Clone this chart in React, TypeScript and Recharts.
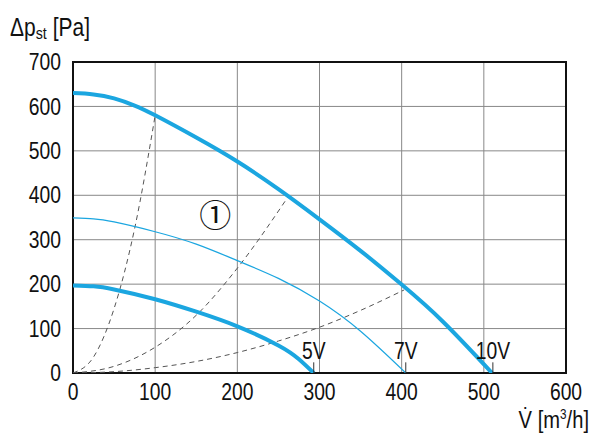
import React from 'react';
import { LineChart, Line, XAxis, YAxis, CartesianGrid, ReferenceLine, ReferenceArea, ReferenceDot } from 'recharts';

// fan curves (volume flow m3/h -> static pressure Pa)
const curve10V = [
  { x: 0, y: 630 }, { x: 25, y: 627 }, { x: 50, y: 618 }, { x: 75, y: 602 }, { x: 100, y: 580 }, { x: 150, y: 530 },
  { x: 200, y: 476 }, { x: 250, y: 414 }, { x: 300, y: 346 }, { x: 350, y: 275 }, { x: 400, y: 199 }, { x: 450, y: 116 }, { x: 510, y: 0 }
];
const curve7V = [
  { x: 0, y: 349 }, { x: 25, y: 347 }, { x: 50, y: 340 }, { x: 100, y: 318 }, { x: 150, y: 290 }, { x: 200, y: 253 },
  { x: 250, y: 213 }, { x: 300, y: 162 }, { x: 350, y: 94 }, { x: 405, y: 0 }
];
const curve5V = [
  { x: 0, y: 197 }, { x: 25, y: 195 }, { x: 50, y: 188 }, { x: 100, y: 166 }, { x: 150, y: 138 }, { x: 200, y: 105 },
  { x: 250, y: 62 }, { x: 275, y: 31 }, { x: 293, y: 0 }
];

// system curves (dashed)
const system1 = [{ x: 0, y: 0 }, { x: 25, y: 36 }, { x: 50, y: 145 }, { x: 75, y: 325 }, { x: 100, y: 580 }];
const system2 = [{ x: 0, y: 0 }, { x: 50, y: 15 }, { x: 100, y: 58 }, { x: 150, y: 130 }, { x: 200, y: 236 }, { x: 263, y: 400 }];
const system3 = [
  { x: 0, y: 0 }, { x: 50, y: 3 }, { x: 100, y: 12 }, { x: 150, y: 26 }, { x: 200, y: 46 },
  { x: 250, y: 72 }, { x: 300, y: 103 }, { x: 350, y: 141 }, { x: 403, y: 187 }
];

const curveLabels = [
  { name: '5V', x: 293 },
  { name: '7V', x: 405 },
  { name: '10V', x: 511 }
];

const xTicks = [0, 100, 200, 300, 400, 500, 600];
const yTicks = [0, 100, 200, 300, 400, 500, 600, 700];

const blue = '#1BA6E0';
const font = '"Liberation Sans", Arial, sans-serif';
const squeeze = 0.84;

// condensed-looking text (no narrow font installed)
function CondText({ x, y, anchor = 'start', size = 23, dy, children }: any) {
  return <text transform={`translate(${x},${y}) scale(${squeeze},1)`} x={0} y={0} dy={dy} textAnchor={anchor}
      fill="#111" fontSize={size} fontFamily={font}>{children}</text>;
}

const XTick = ({ x, y, payload }: any) => <CondText x={x} y={y} anchor="middle" dy="0.71em">{payload.value}</CondText>;
const YTick = ({ x, y, payload }: any) => <CondText x={x} y={y} anchor="end" dy="0.355em">{payload.value}</CondText>;

export default function App() {
  return <div style={{ position: 'absolute', left: 0, top: 0, width: 600, height: 436, background: '#fff' }}>
      <LineChart width={600} height={436} margin={{ top: 62, right: 34, bottom: 0, left: 0 }}>
        <CartesianGrid stroke="#888" strokeWidth={1} />
        <XAxis dataKey="x" type="number" domain={[0, 600]} ticks={xTicks} allowDataOverflow
          height={63} tickLine={false} axisLine={false} tickSize={0} tickMargin={11} tick={<XTick />} />
        <YAxis type="number" domain={[0, 700]} ticks={yTicks} allowDataOverflow
          width={73} tickLine={false} axisLine={false} tickSize={0} tickMargin={12} tick={<YTick />} />
        <ReferenceArea x1={0} x2={600} y1={0} y2={700} fill="none" stroke="#111" strokeWidth={2} />

        <Line data={system1} dataKey="y" type="monotone" stroke="#555" strokeWidth={1} strokeDasharray="5 4" dot={false} isAnimationActive={false} />
        <Line data={system2} dataKey="y" type="monotone" stroke="#555" strokeWidth={1} strokeDasharray="5 4" dot={false} isAnimationActive={false} />
        <Line data={system3} dataKey="y" type="monotone" stroke="#555" strokeWidth={1} strokeDasharray="5 4" dot={false} isAnimationActive={false} />

        <Line data={curve5V} dataKey="y" type="natural" stroke={blue} strokeWidth={4} dot={false} isAnimationActive={false} />
        <Line data={curve7V} dataKey="y" type="natural" stroke={blue} strokeWidth={1.2} dot={false} isAnimationActive={false} />
        <Line data={curve10V} dataKey="y" type="natural" stroke={blue} strokeWidth={4} dot={false} isAnimationActive={false} />

        {curveLabels.map(c => <ReferenceLine key={c.name} segment={[{ x: c.x, y: 0 }, { x: c.x, y: 24 }]} stroke="#333" strokeWidth={1}
            label={{ content: (p: any) => <CondText x={p.viewBox.x} y={p.viewBox.y - 3} anchor="middle">{c.name}</CondText> }} />)}

        <ReferenceDot x={173} y={354} r={0} fill="none" stroke="none"
          label={{ value: '①', position: 'center', fill: '#111', fontSize: 32, fontFamily: '"Noto Sans CJK JP", "DejaVu Sans", sans-serif' }} />

        <CondText x={10} y={36} size={25}>
          Δp<tspan fontSize={17} dy={3}>st</tspan><tspan dy={-3}> [Pa]</tspan>
        </CondText>
        <CondText x={589} y={428} anchor="end" size={24}>
          V̇ [m<tspan fontSize={14} dy={-9}>3</tspan><tspan dy={9}>/h]</tspan>
        </CondText>
      </LineChart>
    </div>;
}
